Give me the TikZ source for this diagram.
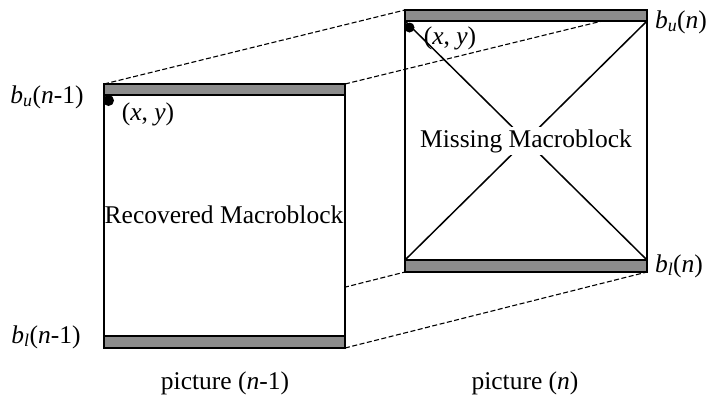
\documentclass[tikz,border=0pt]{standalone}
\usepackage{fontspec}
\setmainfont{Liberation Serif}
\begin{document}
\begin{tikzpicture}[x=1pt,y=-1pt,
  frame/.style={line width=1.9pt, draw=black},
  band/.style={fill=black!45, draw=black, line width=1.6pt},
  link/.style={dashed, line width=1.1pt, dash pattern=on 5pt off 2.5pt},
  lbl/.style={inner sep=0pt, font=\fontsize{25.5}{29}\selectfont},
  dot/.style={fill=black}]
\useasboundingbox (0,0) rectangle (709,397);
% corners of the left (recovered) box
\coordinate (LTL) at (104,84);
\coordinate (LTR) at (345,84);
\coordinate (LBL) at (104,348);
\coordinate (LBR) at (345,348);
% corners of the right (missing) box
\coordinate (RTL) at (405,10);
\coordinate (RTR) at (647,10);
\coordinate (RBL) at (405,272);
\coordinate (RBR) at (647,272);
% dashed links
\draw[link] (LTL) -- (RTL);
\draw[link] (LTR) -- (RTR);
\draw[link] (LBL) -- (RBL);
\draw[link] (LBR) -- (RBR);
% left box
\fill[white] (LTL) rectangle (LBR);
\draw[band] (104,84) rectangle (345,95);
\draw[band] (104,336) rectangle (345,348);
\draw[frame] (LTL) rectangle (LBR);
% right box
\coordinate (RIL) at (405,21);
\coordinate (RIR) at (647,21);
\coordinate (RJL) at (405,260);
\coordinate (RJR) at (647,260);
\draw[band] (405,10) rectangle (647,21);
\draw[band] (405,260) rectangle (647,272);
\draw[frame] (RTL) rectangle (RBR);
\draw[line width=1.5pt] (RIL) -- (RJR);
\draw[line width=1.5pt] (RIR) -- (RJL);
% dots
\fill[dot] (108.5,100.5) circle (5.5);
\fill[dot] (409.5,27.5) circle (5);
% labels
\node[lbl] (xyL) at (148,114) {(\textit{x}, \textit{y})};
\node[lbl] (xyR) at (450,38) {(\textit{x}, \textit{y})};
\node[lbl] (buL) at (47,97) {\textit{b}\textsubscript{\textit{u}}(\textit{n}-1)};
\node[lbl] (blL) at (46,337) {\textit{b}\textsubscript{\textit{l}}(\textit{n}-1)};
\node[lbl] (buR) at (681,22) {\textit{b}\textsubscript{\textit{u}}(\textit{n})};
\node[lbl] (blR) at (679,266) {\textit{b}\textsubscript{\textit{l}}(\textit{n})};
\node[lbl] (rec) at (224,215) {Recovered Macroblock};
\node[lbl, fill=white, inner sep=2pt] (mis) at (526,141) {Missing Macroblock};
\node[lbl] (picL) at (225,383) {picture (\textit{n}-1)};
\node[lbl] (picR) at (525,383) {picture (\textit{n})};
\end{tikzpicture}
\end{document}
